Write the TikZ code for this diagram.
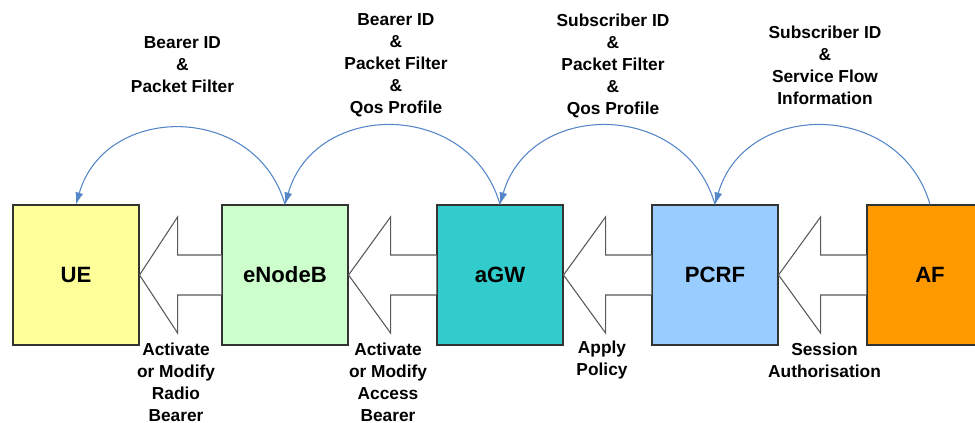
\documentclass[tikz,border=0pt]{standalone}
\usepackage{fontspec}
\setmainfont{Liberation Sans}
\usetikzlibrary{arrows.meta,calc}
\definecolor{ueyellow}{RGB}{255,255,153}
\definecolor{enbgreen}{RGB}{204,255,204}
\definecolor{agwteal}{RGB}{51,204,204}
\definecolor{pcrfblue}{RGB}{153,204,255}
\definecolor{aforange}{RGB}{255,153,0}
\definecolor{arcblue}{RGB}{84,134,200}
\begin{document}
\begin{tikzpicture}[x=0.75pt,y=0.75pt,
  box/.style={draw=black!80, line width=0.8pt, minimum width=94.5pt, minimum height=105pt, inner sep=0pt,
    font=\fontsize{16.6}{19}\selectfont\bfseries},
  lbl/.style={align=center, inner sep=0pt, font=\fontsize{13}{16.5}\selectfont\bfseries},
  barc/.style={draw=arcblue, line width=0.8pt, -{Latex[length=9pt,width=6pt]}, looseness=1.3},
  barrow/.style={draw=black!65, line width=0.8pt, fill=white}]
\useasboundingbox (0,0) rectangle (975,-423);
\clip (0,0) rectangle (975,-423);

% boxes
\node[box, fill=ueyellow] (ue) at (76,-275) {UE};
\node[box, fill=enbgreen] (enb) at (285,-275) {eNodeB};
\node[box, fill=agwteal] (agw) at (500,-275) {aGW};
\node[box, fill=pcrfblue] (pcrf) at (715,-275) {PCRF};
\node[box, fill=aforange] (af) at (930,-275) {AF};

% block arrows
\draw[barrow] ($(enb.west)+(0,20)$) -- ($(ue.east)+(38,20)$) -- ($(ue.east)+(38,58)$) -- (ue.east)
  -- ($(ue.east)+(38,-58)$) -- ($(ue.east)+(38,-20)$) -- ($(enb.west)+(0,-20)$);
\draw[barrow] ($(agw.west)+(0,20)$) -- ($(enb.east)+(42,20)$) -- ($(enb.east)+(42,58)$) -- (enb.east)
  -- ($(enb.east)+(42,-58)$) -- ($(enb.east)+(42,-20)$) -- ($(agw.west)+(0,-20)$);
\draw[barrow] ($(pcrf.west)+(0,20)$) -- ($(agw.east)+(42,20)$) -- ($(agw.east)+(42,58)$) -- (agw.east)
  -- ($(agw.east)+(42,-58)$) -- ($(agw.east)+(42,-20)$) -- ($(pcrf.west)+(0,-20)$);
\draw[barrow] ($(af.west)+(0,20)$) -- ($(pcrf.east)+(42,20)$) -- ($(pcrf.east)+(42,58)$) -- (pcrf.east)
  -- ($(pcrf.east)+(42,-58)$) -- ($(pcrf.east)+(42,-20)$) -- ($(af.west)+(0,-20)$);

% curved arrows
\draw[barc] (enb.north) to[out=106,in=74] (ue.north);
\draw[barc] (agw.north) to[out=106,in=74] (enb.north);
\draw[barc] (pcrf.north) to[out=106,in=74] (agw.north);
\draw[barc] (af.north) to[out=106,in=74] (pcrf.north);

% top labels
\node[lbl] (t1) at (182.5,-65) {Bearer ID\\\&\\Packet Filter};
\node[lbl] (t2) at (396,-65.5) {Bearer ID\\\&\\Packet Filter\\\&\\Qos Profile};
\node[lbl] (t3) at (613,-65.5) {Subscriber ID\\\&\\Packet Filter\\\&\\Qos Profile};
\node[lbl] (t4) at (825,-65) {Subscriber ID\\\&\\Service Flow\\Information};

% bottom labels
\node[lbl] (b1) at (176,-382) {Activate\\or Modify\\Radio\\Bearer};
\node[lbl] (b2) at (388,-382) {Activate\\or Modify\\Access\\Bearer};
\node[lbl] (b3) at (602,-360.5) {Apply\\Policy};
\node[lbl] (b4) at (824.5,-360.5) {Session\\Authorisation};
\end{tikzpicture}
\end{document}
